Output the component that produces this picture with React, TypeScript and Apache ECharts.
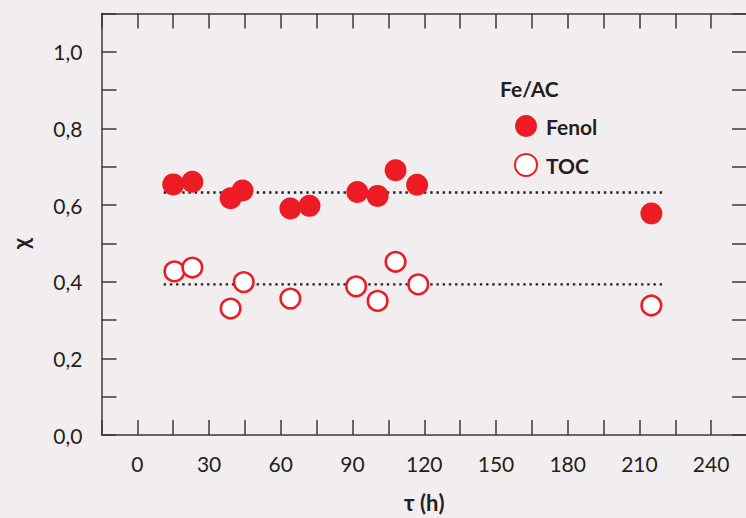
import React, { useEffect, useRef } from "react";
import * as echarts from "echarts";

const xFenol = [15, 23, 39, 44, 64, 72, 92, 100.5, 108, 117, 215];
const yFenol = [0.654, 0.661, 0.618, 0.638, 0.591, 0.598, 0.634, 0.624, 0.691, 0.653, 0.578];
const xTOC = [15.5, 23, 39, 44.5, 64, 91.5, 100.5, 108, 117.5, 215];
const yTOC = [0.427, 0.437, 0.33, 0.399, 0.356, 0.388, 0.35, 0.452, 0.393, 0.338];
const meanFenol = 0.633;
const meanTOC = 0.393;
const meanStart = 11;
const meanEnd = 220;
const legendTitle = "Fe/AC";
const seriesNames = ["Fenol", "TOC"];
const xName = "τ (h)";
const yName = "χ";

const FONT = 'Lato, "DejaVu Sans Condensed", sans-serif';
const TXT = "#231f20";
const RED = "#ed1c24";
const AX = "#3a3a3a";

export default function App() {
  const ref = useRef<HTMLDivElement>(null);
  useEffect(() => {
    if (!ref.current) return;
    const chart = echarts.init(ref.current, null, { renderer: "svg" });
    const axisCommon = {
      axisLine: { show: true, onZero: false, lineStyle: { color: AX, width: 1.5 } },
      axisTick: { show: true, inside: true, length: 15, lineStyle: { color: AX, width: 1.5 } },
      splitLine: { show: false },
    };
    const xBase = { type: "value", min: -15, max: 255, interval: 15 };
    const yBase = { type: "value", min: 0, max: 1.1, interval: 0.1 };
    chart.setOption({
      animation: false,
      backgroundColor: "#f2eeef",
      grid: { left: 101.5, top: 13.5, right: 0.7, bottom: 78.7 },
      xAxis: [
        {
          ...xBase,
          ...axisCommon,
          position: "bottom",
          name: xName,
          nameLocation: "middle",
          nameGap: 56,
          nameTextStyle: { fontFamily: FONT, fontSize: 22, fontWeight: "bold", color: TXT },
          axisLabel: {
            margin: 18,
            fontFamily: FONT,
            fontSize: 21,
            color: TXT,
            formatter: (v: number) => (v >= 0 && Math.round(v) % 30 === 0 ? String(Math.round(v)) : ""),
          },
        },
        { ...xBase, ...axisCommon, position: "top", axisLabel: { show: false } },
      ],
      yAxis: [
        {
          ...yBase,
          ...axisCommon,
          position: "left",
          axisLabel: {
            margin: 19,
            fontFamily: FONT,
            fontSize: 21,
            color: TXT,
            formatter: (v: number) =>
              Math.round(v * 10) % 2 === 0 ? v.toFixed(1).replace(".", ",") : "",
          },
        },
        { ...yBase, ...axisCommon, position: "right", axisLabel: { show: false } },
      ],
      legend: {
        orient: "vertical",
        left: 509,
        top: 110,
        itemWidth: 22,
        itemHeight: 22,
        itemGap: 16,
        data: seriesNames,
        textStyle: {
          fontFamily: FONT,
          fontSize: 21,
          fontWeight: "bold",
          color: TXT,
          padding: [0, 0, 0, 4],
        },
      },
      graphic: [
        {
          type: "text",
          left: 500,
          top: 78,
          style: { text: legendTitle, font: `bold 21px ${FONT}`, fill: TXT },
        },
        {
          type: "text",
          x: 20.5,
          y: 243.5,
          rotation: Math.PI / 2,
          style: {
            text: yName,
            font: `bold 22px ${FONT}`,
            fill: TXT,
            align: "center",
            verticalAlign: "middle",
          },
        },
      ],
      series: [
        {
          type: "line",
          name: "meanFenol",
          data: [
            [meanStart, meanFenol],
            [meanEnd, meanFenol],
          ],
          symbol: "none",
          lineStyle: { color: "#222", width: 2.4, type: [2.4, 3.8], cap: "butt" },
          silent: true,
          z: 1,
        },
        {
          type: "line",
          name: "meanTOC",
          data: [
            [meanStart, meanTOC],
            [meanEnd, meanTOC],
          ],
          symbol: "none",
          lineStyle: { color: "#222", width: 2.4, type: [2.4, 3.8], cap: "butt" },
          silent: true,
          z: 1,
        },
        {
          type: "scatter",
          name: seriesNames[0],
          data: xFenol.map((x, i) => [x, yFenol[i]]),
          symbol: "circle",
          symbolSize: 22,
          itemStyle: { color: RED, opacity: 1 },
          z: 3,
        },
        {
          type: "scatter",
          name: seriesNames[1],
          data: xTOC.map((x, i) => [x, yTOC[i]]),
          symbol: "circle",
          symbolSize: 19.5,
          itemStyle: { color: "#ffffff", borderColor: RED, borderWidth: 2.6, opacity: 1 },
          z: 3,
        },
      ],
    });
    return () => chart.dispose();
  }, []);
  return (
    <div style={{ position: "fixed", left: 0, top: 0, width: 746, height: 518, overflow: "hidden", background: "#f2eeef" }}>
      <div ref={ref} style={{ width: 750, height: 518 }} />
    </div>
  );
}
